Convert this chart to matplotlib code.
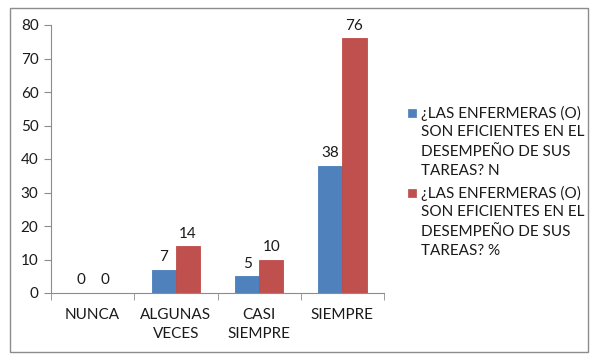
import matplotlib
matplotlib.use("Agg")
import matplotlib.pyplot as plt
from matplotlib.patches import Rectangle
import numpy as np
import textwrap

categories = ["NUNCA", "ALGUNAS\nVECES", "CASI\nSIEMPRE", "SIEMPRE"]
series_names = ["¿LAS ENFERMERAS (O) SON EFICIENTES EN EL DESEMPEÑO DE SUS TAREAS? N",
                "¿LAS ENFERMERAS (O) SON EFICIENTES EN EL DESEMPEÑO DE SUS TAREAS? %"]
values_n = [0, 7, 5, 38]
values_pct = [0, 14, 10, 76]
yticks = [0, 10, 20, 30, 40, 50, 60, 70, 80]

colors = ["#4F81BD", "#C0504D"]
edge = ["#4A7EBB", "#BE4B48"]

plt.rcParams['font.family'] = ['Lato', 'DejaVu Sans']
FS = 11

W, H = 595, 359
fig = plt.figure(figsize=(W/100, H/100), dpi=100)
fig.patch.set_facecolor("white")

# outer border
fig.patches.append(Rectangle((10/W, 1-352/H), 578/W, 344/H, transform=fig.transFigure,
                             fill=False, edgecolor="#8C8C8C", linewidth=1.0))

ax = fig.add_axes([51/W, 1-293/H, (384-51)/W, (293-25)/H])
x = np.arange(len(categories))
bw = 0.29
series = [values_n, values_pct]
for i, vals in enumerate(series):
    pos = x + (i - 0.5) * bw
    ax.bar(pos, vals, width=bw, color=colors[i], edgecolor=edge[i], linewidth=0.6)
    for p, v in zip(pos, vals):
        ax.annotate(str(v), (p, v), xytext=(0, 4), textcoords="offset points",
                    ha="center", va="bottom", fontsize=FS, color="#1a1a1a")

ax.set_xlim(-0.5, len(categories) - 0.5)
ax.set_ylim(0, 80)
ax.set_yticks(yticks)
ax.set_xticks(np.arange(len(categories) + 1) - 0.5, minor=True)
ax.set_xticks(x)
ax.set_xticklabels(categories, fontsize=FS, color="#1a1a1a", linespacing=1.45)
ax.tick_params(axis="x", which="major", length=0, pad=11)
ax.tick_params(axis="x", which="minor", length=5, color="#8C8C8C", direction="out")
ax.tick_params(axis="y", length=5, color="#8C8C8C", labelsize=FS, labelcolor="#1a1a1a", pad=4)
for s in ["top", "right"]:
    ax.spines[s].set_visible(False)
for s in ["left", "bottom"]:
    ax.spines[s].set_color("#8C8C8C")
    ax.spines[s].set_linewidth(0.8)

# legend drawn manually
legend_tops = [113, 193]
for i, name in enumerate(series_names):
    lines = textwrap.wrap(name, 20)
    yc = legend_tops[i]
    fig.patches.append(Rectangle((408/W, 1-(yc+4)/H), 8/W, 8/H, transform=fig.transFigure,
                                 facecolor=colors[i], edgecolor=edge[i], linewidth=0.5))
    for j, ln in enumerate(lines):
        fig.text(421/W, 1-(yc + j*19.3)/H, ln, fontsize=FS, va="center", ha="left",
                 color="#1a1a1a")

fig.savefig("out.png", dpi=100)
